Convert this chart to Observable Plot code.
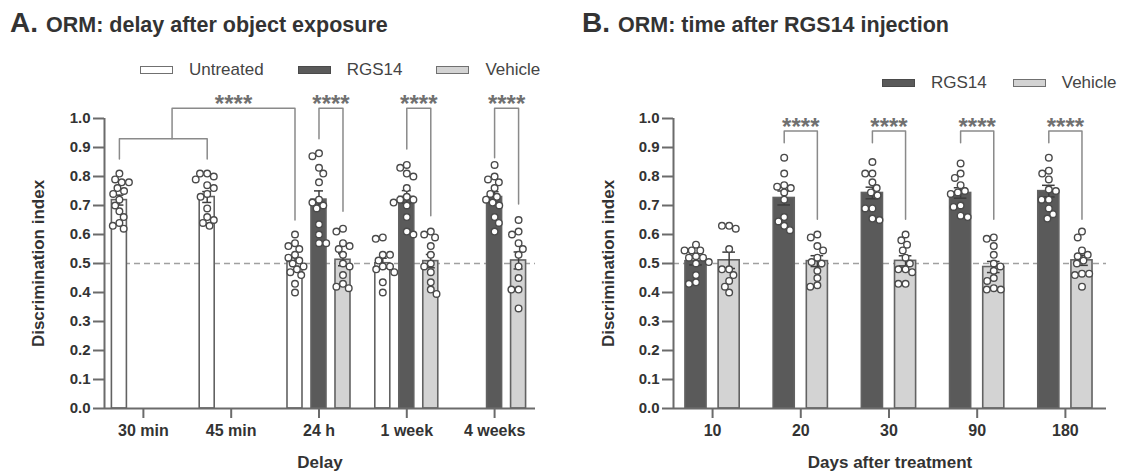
<!DOCTYPE html>
<html>
<head>
<meta charset="utf-8">
<script src="https://cdn.jsdelivr.net/npm/d3@7"></script>
<script src="https://cdn.jsdelivr.net/npm/@observablehq/plot@0.6"></script>
<style>
  body { margin: 0; background: #fff; font-family: "Liberation Sans", Arial, sans-serif; }
  #wrap { position: relative; width: 1122px; height: 473px; overflow: hidden; background: #fff; }
  .title { position: absolute; display: flex; align-items: baseline; color: #333; font-weight: bold; white-space: nowrap; line-height: 28px; }
  .title .big { font-size: 28px; }
  .title .small { font-size: 21.5px; margin-left: 8px; }
  .legend { position: absolute; display: flex; align-items: center; height: 20px; line-height: 20px; font-size: 17px; color: #444; white-space: nowrap; }
  .item { display: flex; align-items: center; }
  .sw { width: 33px; height: 8px; box-sizing: border-box; border: 1.5px solid #707070; margin-right: 16px; }
  .panel { position: absolute; top: 90px; }
</style>
</head>
<body>
<div id="wrap"></div>
<script>
// ---------------- Panel A data ----------------
const titleA = ["A.", "ORM: delay after object exposure"];
const delaysA = ["30 min", "45 min", "24 h", "1 week", "4 weeks"];
const seriesA = ["Untreated", "RGS14", "Vehicle"];
const untreatedA = [
  [0.81, 0.79, 0.78, 0.78, 0.76, 0.75, 0.74, 0.72, 0.70, 0.68, 0.66, 0.64, 0.63, 0.62],
  [0.81, 0.81, 0.80, 0.79, 0.77, 0.76, 0.74, 0.73, 0.69, 0.66, 0.65, 0.64, 0.63],
  [0.60, 0.57, 0.56, 0.55, 0.53, 0.52, 0.51, 0.50, 0.49, 0.48, 0.47, 0.46, 0.43, 0.40],
  [0.59, 0.585, 0.53, 0.53, 0.51, 0.49, 0.49, 0.48, 0.47, 0.435, 0.40],
  null
];
const rgs14A = [
  null,
  null,
  [0.88, 0.87, 0.83, 0.81, 0.78, 0.72, 0.71, 0.70, 0.69, 0.635, 0.60, 0.57, 0.57],
  [0.84, 0.83, 0.81, 0.80, 0.76, 0.73, 0.72, 0.72, 0.71, 0.70, 0.66, 0.61, 0.60],
  [0.84, 0.80, 0.79, 0.78, 0.76, 0.74, 0.73, 0.72, 0.71, 0.70, 0.66, 0.64, 0.61]
];
const vehicleA = [
  null,
  null,
  [0.62, 0.61, 0.57, 0.56, 0.55, 0.53, 0.50, 0.49, 0.46, 0.43, 0.42, 0.415],
  [0.61, 0.60, 0.59, 0.56, 0.53, 0.50, 0.49, 0.47, 0.435, 0.41, 0.395],
  [0.65, 0.61, 0.60, 0.57, 0.55, 0.53, 0.49, 0.45, 0.41, 0.41, 0.345]
];
// significance brackets: a = start bar, or {bracket, at} = a point along an earlier bracket
const sigA = [
  {a: ["30 min", "Untreated"], b: ["45 min", "Untreated"], top: 0.93, aEnd: 0.86, bEnd: 0.86, label: ""},
  {a: {bracket: 0, at: 0.6}, b: ["24 h", "Untreated"], top: 1.035, aEnd: 0.93, bEnd: 0.65, label: "****"},
  {a: ["24 h", "RGS14"], b: ["24 h", "Vehicle"], top: 1.035, aEnd: 0.93, bEnd: 0.68, label: "****"},
  {a: ["1 week", "RGS14"], b: ["1 week", "Vehicle"], top: 1.035, aEnd: 0.895, bEnd: 0.665, label: "****"},
  {a: ["4 weeks", "RGS14"], b: ["4 weeks", "Vehicle"], top: 1.035, aEnd: 0.865, bEnd: 0.705, label: "****"}
];
const xLabelA = "Delay";

// ---------------- Panel B data ----------------
const titleB = ["B.", "ORM: time after RGS14 injection"];
const daysB = ["10", "20", "30", "90", "180"];
const seriesB = ["RGS14", "Vehicle"];
const rgs14B = [
  [0.565, 0.545, 0.545, 0.545, 0.525, 0.52, 0.52, 0.505, 0.50, 0.46, 0.435, 0.43],
  [0.865, 0.81, 0.77, 0.765, 0.76, 0.745, 0.72, 0.66, 0.645, 0.63, 0.615],
  [0.85, 0.81, 0.81, 0.78, 0.76, 0.745, 0.735, 0.69, 0.69, 0.655, 0.65],
  [0.845, 0.81, 0.795, 0.77, 0.75, 0.745, 0.74, 0.70, 0.695, 0.665, 0.66],
  [0.865, 0.82, 0.81, 0.79, 0.755, 0.75, 0.72, 0.72, 0.69, 0.67, 0.655]
];
const vehicleB = [
  [0.63, 0.63, 0.62, 0.55, 0.48, 0.48, 0.46, 0.44, 0.42, 0.40],
  [0.60, 0.59, 0.56, 0.545, 0.52, 0.505, 0.50, 0.475, 0.45, 0.425, 0.42],
  [0.60, 0.58, 0.565, 0.545, 0.52, 0.50, 0.48, 0.48, 0.47, 0.43, 0.43],
  [0.59, 0.585, 0.56, 0.53, 0.50, 0.49, 0.475, 0.45, 0.44, 0.415, 0.41, 0.41],
  [0.61, 0.59, 0.545, 0.53, 0.525, 0.51, 0.50, 0.465, 0.465, 0.46, 0.42]
];
const sigB = [
  {a: ["20", "RGS14"], b: ["20", "Vehicle"], top: 0.957, aEnd: 0.916, bEnd: 0.653, label: "****"},
  {a: ["30", "RGS14"], b: ["30", "Vehicle"], top: 0.957, aEnd: 0.916, bEnd: 0.653, label: "****"},
  {a: ["90", "RGS14"], b: ["90", "Vehicle"], top: 0.957, aEnd: 0.916, bEnd: 0.653, label: "****"},
  {a: ["180", "RGS14"], b: ["180", "Vehicle"], top: 0.957, aEnd: 0.916, bEnd: 0.653, label: "****"}
];
const xLabelB = "Days after treatment";
const yLabel = "Discrimination index";
const yTicks = [0, 0.1, 0.2, 0.3, 0.4, 0.5, 0.6, 0.7, 0.8, 0.9, 1.0];
const chance = 0.5;

// ---------------- styling ----------------
const allSeries = ["Untreated", "RGS14", "Vehicle"];
const fills = ["#ffffff", "#5a5a5a", "#d3d3d3"];
const axisColor = "#6b6b6b";
const DOT_R = 3.3;

// beeswarm layout of the individual points around each bar centre (pixel space)
function swarm(R, pad) {
  return function (data, facets, channels, scales) {
    const X = channels.x.value, Y = channels.y.value;
    const n = X.length;
    const px = Array.from(X, (v) => scales.x(v));
    const py = Array.from(Y, (v) => scales.y(v));
    const off = new Float64Array(n);
    const d = 2 * R + pad;
    const groups = d3.group(d3.range(n), (i) => X[i]);
    for (const idx of groups.values()) {
      const order = idx.slice().sort((a, b) => py[a] - py[b]);
      const placed = [];
      let flip = 1;
      for (const i of order) {
        const forbid = [];
        for (const j of placed) {
          const dy = py[i] - py[j];
          if (Math.abs(dy) < d) {
            const w = Math.sqrt(d * d - dy * dy);
            forbid.push([off[j] - w, off[j] + w]);
          }
        }
        const cands = [0];
        for (const [a, b] of forbid) cands.push(a, b);
        cands.sort((a, b) => Math.abs(a) - Math.abs(b) || flip * (a - b));
        let best = 0;
        for (const c of cands) {
          if (forbid.every(([a, b]) => c <= a + 1e-6 || c >= b - 1e-6)) { best = c; break; }
        }
        off[i] = best;
        if (best !== 0) flip = -flip;
        placed.push(i);
      }
    }
    return {
      data, facets,
      channels: {
        x: {value: Array.from(off, (o, i) => px[i] + o)},
        y: {value: py}
      }
    };
  };
}

function makePanel({cats, series, values, sig, xLabel, marginLeft, marginRight, inner, yLabelDx}) {
  const xDomain = [-0.443, 4.466];
  const band = d3.scaleBand(series, [-0.5, 0.5]).paddingInner(inner[0]).paddingOuter(inner[1]);
  const bw = band.bandwidth();
  const pos = (cat, s) => cats.indexOf(cat) + band(s) + bw / 2;
  const dots = [], bars = [];
  series.forEach((s, si) => cats.forEach((c, ci) => {
    const v = values[si][ci];
    if (!v) return;
    const p = pos(c, s);
    v.forEach((value) => dots.push({series: s, cat: c, pos: p, value}));
    const mean = d3.mean(v), sem = d3.deviation(v) / Math.sqrt(v.length);
    bars.push({series: s, cat: c, pos: p, x1: p - bw / 2, x2: p + bw / 2, mean, lo: mean - sem, hi: mean + sem});
  }));
  const lines = [], ends = [], labels = [];
  sig.forEach((b, k) => {
    let xa;
    if (Array.isArray(b.a)) xa = pos(...b.a);
    else { const [p0, p1] = ends[b.a.bracket]; xa = p0 + (p1 - p0) * b.a.at; }
    const xb = pos(...b.b);
    ends[k] = [xa, xb];
    lines.push({id: k, x: xa, y: b.aEnd}, {id: k, x: xa, y: b.top}, {id: k, x: xb, y: b.top}, {id: k, x: xb, y: b.bEnd});
    if (b.label) labels.push({x: (xa + xb) / 2, y: b.top, label: b.label});
  });
  const cap = bw * 0.3;
  return Plot.plot({
    width: 561, height: 383,
    marginLeft, marginRight, marginTop: 28, marginBottom: 65,
    style: {fontFamily: "'Liberation Sans', Arial, sans-serif", fontWeight: "bold", color: "#333", background: "transparent", overflow: "visible"},
    x: {domain: xDomain, axis: null},
    y: {domain: [0, 1], axis: null},
    color: {domain: allSeries, range: fills},
    marks: [
      Plot.ruleY([chance], {stroke: "#a0a0a0", strokeWidth: 1.3, strokeDasharray: "6,4"}),
      Plot.rect(bars, {x1: "x1", x2: "x2", y1: 0, y2: "mean", fill: "series", stroke: "#626262", strokeWidth: 1.6}),
      Plot.ruleX(bars, {x: "pos", y1: "lo", y2: "hi", stroke: "#3c3c3c", strokeWidth: 1.5}),
      Plot.ruleY(bars, {y: "hi", x1: (d) => d.pos - cap, x2: (d) => d.pos + cap, stroke: "#3c3c3c", strokeWidth: 1.5}),
      Plot.ruleY(bars, {y: "lo", x1: (d) => d.pos - cap, x2: (d) => d.pos + cap, stroke: "#3c3c3c", strokeWidth: 1.5}),
      Plot.dot(dots, Plot.initializer({x: "pos", y: "value", r: DOT_R, fill: "white", stroke: "#4a4a4a", strokeWidth: 1.4}, swarm(DOT_R, 0.6))),
      Plot.line(lines, {x: "x", y: "y", z: "id", stroke: "#8a8a8a", strokeWidth: 1.5}),
      Plot.text(labels, {x: "x", y: "y", text: "label", fontSize: 24, fill: "#707070", lineAnchor: "bottom", dy: 4}),
      Plot.ruleY([0], {stroke: axisColor, strokeWidth: 2}),
      Plot.ruleX([xDomain[0]], {y1: 0, y2: 1, stroke: axisColor, strokeWidth: 2}),
      Plot.axisY({ticks: yTicks, tickFormat: d3.format(".1f"), tickSize: 11, tickPadding: 3, fontSize: 15, stroke: axisColor, strokeWidth: 2, fill: "#333", label: null}),
      Plot.axisX({ticks: d3.range(cats.length), tickFormat: (i) => cats[i], tickSize: 10, tickPadding: 6, fontSize: 16, stroke: axisColor, strokeWidth: 2, fill: "#333", label: null}),
      Plot.text([xLabel], {text: (d) => d, frameAnchor: "bottom", textAnchor: "middle", lineAnchor: "middle", dy: 54, fontSize: 17, fill: "#333"}),
      Plot.text([yLabel], {text: (d) => d, frameAnchor: "left", textAnchor: "middle", lineAnchor: "middle", dx: yLabelDx, rotate: -90, fontSize: 17, fill: "#333"})
    ]
  });
}

const wrap = document.getElementById("wrap");

function addTitle([big, small], left) {
  const t = document.createElement("div");
  t.className = "title";
  t.style.left = left + "px";
  t.style.top = "9px";
  t.innerHTML = `<span class="big">${big}</span><span class="small">${small}</span>`;
  wrap.appendChild(t);
}
function addLegend(series, left, top, gap) {
  const lg = document.createElement("div");
  lg.className = "legend";
  lg.style.left = left + "px";
  lg.style.top = top + "px";
  lg.style.gap = gap + "px";
  series.forEach((s) => {
    const it = document.createElement("div");
    it.className = "item";
    const sw = document.createElement("div");
    sw.className = "sw";
    sw.style.background = fills[allSeries.indexOf(s)];
    if (s === "RGS14") sw.style.borderColor = "#4a4a4a";
    const lab = document.createElement("span");
    lab.textContent = s;
    it.appendChild(sw); it.appendChild(lab);
    lg.appendChild(it);
  });
  wrap.appendChild(lg);
}

addTitle(titleA, 10);
addTitle(titleB, 582);
addLegend(seriesA, 140, 60, 34);
addLegend(seriesB, 882, 73, 26);

const pA = makePanel({cats: delaysA, series: seriesA, values: [untreatedA, rgs14A, vehicleA], sig: sigA, xLabel: xLabelA,
  marginLeft: 104, marginRight: 26, inner: [0.375, 0.517], yLabelDx: -66});
pA.classList.add("panel"); pA.style.left = "0px";
wrap.appendChild(pA);

const pB = makePanel({cats: daysB, series: seriesB, values: [rgs14B, vehicleB], sig: sigB, xLabel: xLabelB,
  marginLeft: 112, marginRight: 16, inner: [0.364, 0.512], yLabelDx: -65});
pB.classList.add("panel"); pB.style.left = "561px";
wrap.appendChild(pB);
</script>
</body>
</html>
